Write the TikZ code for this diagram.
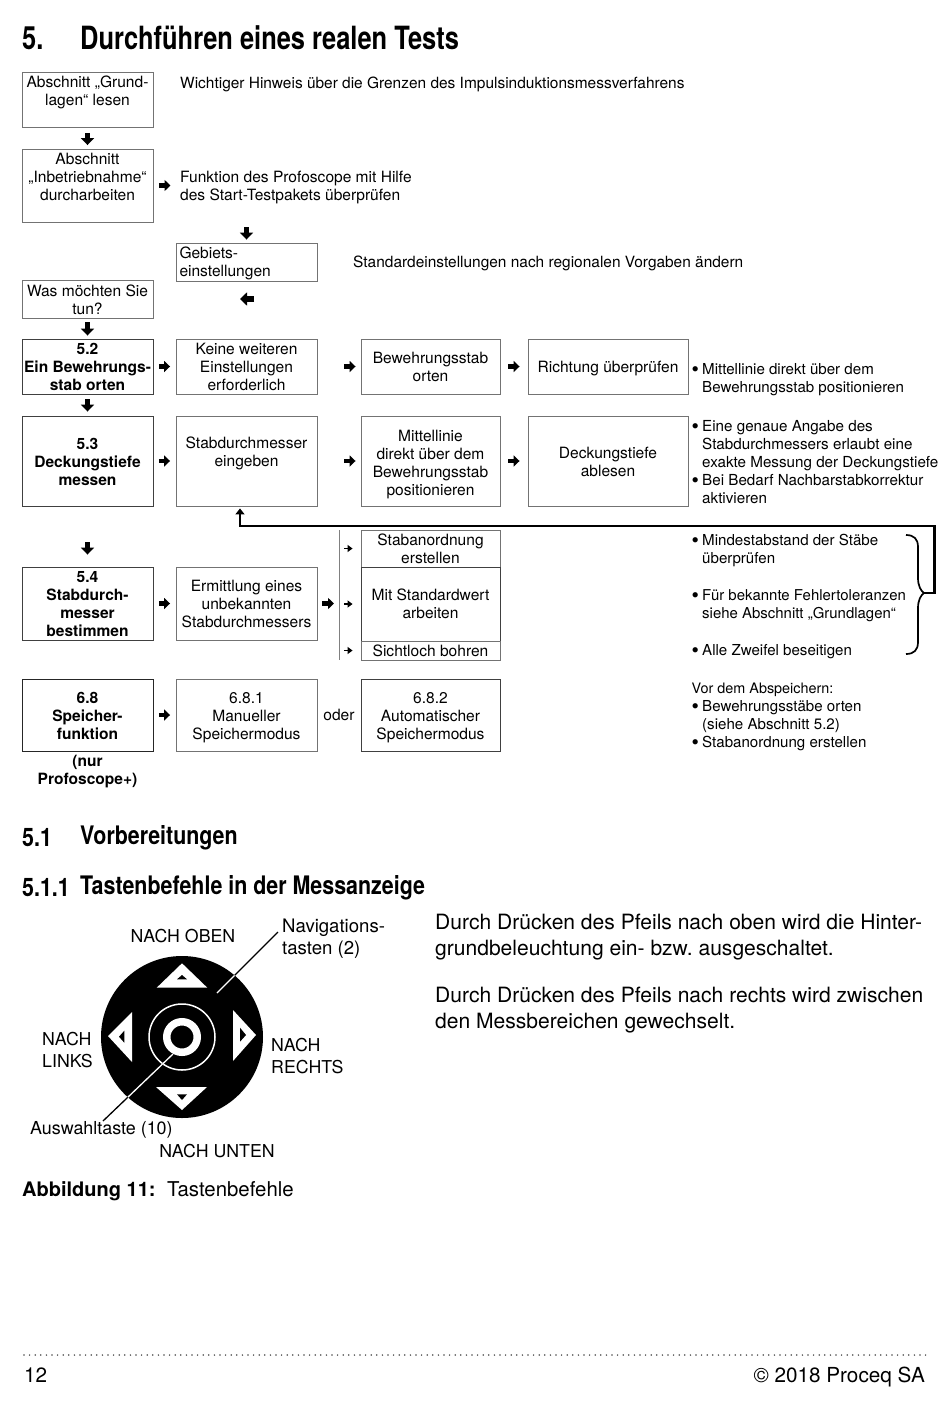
\documentclass[tikz,border=0pt]{standalone}
\usepackage{fontspec}
\setmainfont{TeX Gyre Heros}
\newfontfamily\headf[FakeStretch=0.795]{TeX Gyre Heros}
\newfontfamily\subf[FakeStretch=0.84]{TeX Gyre Heros}
\usetikzlibrary{arrows.meta}
\frenchspacing
\newcommand{\bl}{\makebox[10.5pt][l]{\raisebox{-2pt}{\fontsize{21}{18}\selectfont •}}}
\newcommand{\ind}{\hspace*{10.5pt}}
\newcommand{\st}{\rule{0pt}{15.5pt}}
\tikzset{
  fixedv/.style={execute at begin node={\rule{0pt}{15pt}},execute at end node={\rule[-3.5pt]{0pt}{3.5pt}}},
  fs/.style={font=\fontsize{15.55}{18}\selectfont,fixedv},
  fsb/.style={font=\fontsize{15.55}{18}\selectfont\bfseries,fixedv},
  rs/.style={font=\fontsize{#1}{18}\selectfont},
  lbox/.style={draw=black!55,line width=0.9pt,fs,align=center,inner sep=0pt,minimum width=#1pt},
  dbox/.style={draw=black!75,line width=0.9pt,fs,align=center,inner sep=0pt,minimum width=#1pt},
  txt/.style={fs,align=left,inner sep=0pt,anchor=west},
  captxt/.style={font=\fontsize{#1}{22}\selectfont,align=left,inner sep=0pt},
  bodytxt/.style={font=\fontsize{21.05}{26}\selectfont,align=left,inner sep=0pt,anchor=west},
  headtxt/.style={font=\headf\bfseries\fontsize{32}{32}\selectfont,inner sep=0pt,anchor=west},
  subtxt/.style={font=\subf\bfseries\fontsize{25.5}{26}\selectfont,inner sep=0pt,anchor=west},
  footertxt/.style={font=\fontsize{20.7}{24}\selectfont,inner sep=0pt},
  blk/.style={line width=4.2pt,-{Triangle[width=11pt,length=6pt]}},
  blkv/.style={line width=5.4pt,-{Triangle[width=13pt,length=7pt]}},
  tarrow/.style={line width=1.4pt,-{Triangle[width=7pt,length=5pt]}},
  fbline/.style={line width=2.4pt,-{Triangle[width=9pt,length=6pt]}},
}
\begin{document}
\begin{tikzpicture}[x=1pt,y=-1pt]
\useasboundingbox (0,0) rectangle (950,1402);
\fill[white] (0,0) rectangle (950,1402);
% headings
\node[headtxt] (h5) at (22,38) {5.};
\node[headtxt] (h5t) at (80,38) {Durchführen eines realen Tests};
\node[subtxt] (h51) at (22,838) {5.1};
\node[subtxt] (h51t) at (80,838) {Vorbereitungen};
\node[subtxt] (h511) at (22,888) {5.1.1};
\node[subtxt] (h511t) at (80,888) {Tastenbefehle in der Messanzeige};
% column 1
\node[lbox=131,minimum height=55pt] (a1) at (87.5,100) {\st Abschnitt „Grund-\\lagen“ lesen\\ };
\node[lbox=131,minimum height=73pt] (a2) at (87.5,185.5) {\st Abschnitt\\„Inbetriebnahme“\\durcharbeiten\\ };
\node[lbox=131,minimum height=38pt] (was) at (87.5,299) {\st Was möchten Sie\\tun?};
\node[dbox=131,minimum height=55pt,fsb] (s52) at (87.5,366.5) {\st 5.2\\Ein Bewehrungs-\\stab orten};
\node[dbox=131,minimum height=90pt,fsb] (s53) at (87.5,461) {\st 5.3\\Deckungstiefe\\messen};
\node[dbox=131,minimum height=73pt,fsb] (s54) at (87.5,603.5) {\st 5.4\\Stabdurch-\\messer\\bestimmen};
\node[draw=black!85,line width=0.9pt,align=center,inner sep=0pt,minimum width=131pt,minimum height=72pt,fsb] (s68) at (87.5,715) {\st 6.8\\Speicher-\\funktion};
\node[align=center,inner sep=0pt,fsb] (nur) at (87.5,771.5) {(nur\\Profoscope+)};
% free texts on top
\node[txt,rs=15.45] (hin) at (180,83) {Wichtiger Hinweis über die Grenzen des Impulsinduktionsmessverfahrens};
\node[txt] (funk) at (180,187.5) {Funktion des Profoscope mit Hilfe\\des Start-Testpakets überprüfen};
\node[lbox=141,minimum height=38pt,text width=134pt,align=left] (geb) at (246.5,262) {Gebiets-\\einstellungen};
\node[txt,rs=15.45] (std) at (353,262) {Standardeinstellungen nach regionalen Vorgaben ändern};
\coordinate (lt) at (254,299);
\coordinate (lh) at (240,299);
% row 5.2
\node[lbox=141,minimum height=55pt] (k1) at (246.5,366.5) {\st Keine weiteren\\Einstellungen\\erforderlich};
\node[lbox=139,minimum height=55pt] (k2) at (430.5,366.5) {\st Bewehrungsstab\\orten};
\node[lbox=160,minimum height=55pt] (k3) at (608,366.5) {Richtung überprüfen};
\node[txt,rs=15.1] (k4) at (691.5,380) {\bl Mittellinie direkt über dem\\\ind Bewehrungsstab positionieren};
% row 5.3
\node[lbox=141,minimum height=90pt] (d1) at (246.5,461) {\rule{0pt}{13.5pt}Stabdurchmesser\\eingeben\\ };
\node[lbox=139,minimum height=90pt] (d2) at (430.5,461) {\rule{0pt}{17.5pt}Mittellinie\\direkt über dem\\Bewehrungsstab\\positionieren};
\node[lbox=160,minimum height=90pt] (d3) at (608,461) {\st Deckungstiefe\\ablesen};
\node[txt,rs=15.2] (d4) at (691.5,464) {\bl Eine genaue Angabe des\\\ind Stabdurchmessers erlaubt eine\\\ind exakte Messung der Deckungstiefe\\\bl Bei Bedarf Nachbarstabkorrektur\\\ind aktivieren};
% row 5.4
\node[lbox=141,minimum height=73pt] (e1) at (246.5,603.5) {\st Ermittlung eines\\unbekannten\\Stabdurchmessers};
\node[lbox=139,minimum height=37pt] (e2) at (430.5,548.5) {\st Stabanordnung\\erstellen};
\node[dbox=139,minimum height=74pt] (e3) at (430.5,604) {\rule{0pt}{13.5pt}Mit Standardwert\\arbeiten};
\node[lbox=139,minimum height=19pt] (e4) at (430.5,650.5) {Sichtloch bohren};
\coordinate (vt) at (339,530);
\coordinate (vb) at (339,660);
\draw[black!50,line width=0.9pt] (vt) -- (vb);
\node[txt,rs=15.1] (f1) at (691.5,551) {\bl Mindestabstand der Stäbe\\\ind überprüfen};
\node[txt,rs=14.95] (f2) at (691.5,605.5) {\bl Für bekannte Fehlertoleranzen\\\ind siehe Abschnitt „Grundlagen“};
\node[txt,rs=15.1] (f3) at (691.5,649.5) {\bl Alle Zweifel beseitigen};
% row 6.8
\node[lbox=141,minimum height=72pt] (g1) at (246.5,715) {\st 6.8.1\\Manueller\\Speichermodus};
\node[dbox=139,minimum height=72pt] (g2) at (430.5,715) {\st 6.8.2\\Automatischer\\Speichermodus};
\node[fs,inner sep=0pt] (oder) at (339,714.5) {oder};
\node[txt,rs=15.1] (g4) at (691.5,716.5) {{\fontsize{14.4}{18}\selectfont Vor dem Abspeichern:}\\\bl Bewehrungsstäbe orten\\\ind (siehe Abschnitt 5.2)\\\bl Stabanordnung erstellen};
% block arrows
\draw[blkv,shorten <=5pt,shorten >=3.5pt] (a1) -- (a2);
\draw[blk,shorten <=5.5pt,shorten >=9.5pt] (a2.east) -- (a2.east -| funk.west);
\draw[blkv,shorten <=23pt,shorten >=3pt] (funk.south -| geb.north) -- (geb.north);
\draw[blkv] (lt) -- (lh);
\draw[blkv,shorten <=4pt,shorten >=3pt] (was) -- (s52);
\draw[blk,shorten <=5.5pt,shorten >=5.5pt] (s52) -- (k1);
\draw[blk,shorten <=27pt,shorten >=5pt] (k1) -- (k2);
\draw[blk,shorten <=8pt,shorten >=8pt] (k2) -- (k3);
\draw[blkv,shorten <=5pt,shorten >=4pt] (s52) -- (s53);
\draw[blk,shorten <=5.5pt,shorten >=5.5pt] (s53) -- (d1);
\draw[blk,shorten <=27pt,shorten >=5pt] (d1) -- (d2);
\draw[blk,shorten <=8pt,shorten >=8pt] (d2) -- (d3);
\draw[blkv,shorten <=36pt,shorten >=12pt] (s53) -- (s54);
\draw[blk,shorten <=5.5pt,shorten >=5.5pt] (s54) -- (e1);
\draw[blk,shorten <=5pt,shorten >=5pt] (e1.east) -- (e1.east -| vt);
\draw[blk,shorten <=5.5pt,shorten >=5.5pt] (s68) -- (g1);
% thin arrows
\draw[tarrow,shorten <=5pt,shorten >=8pt] (e2.west -| vt) -- (e2.west);
\draw[tarrow,shorten <=5pt,shorten >=8pt] (e3.west -| vt) -- (e3.west);
\draw[tarrow,shorten <=5pt,shorten >=8pt] (e4.west -| vt) -- (e4.west);
% brace and feedback line
\coordinate (bt) at (906,535);
\coordinate (bb) at (906,654);
\coordinate (btip) at (924,593);
\draw[line width=1.7pt] (bt) .. controls (914,535) and (918,539) .. (918,547) -- (918,578) .. controls (918,586) and (921,591) .. (btip) .. controls (921,595) and (918,600) .. (918,608) -- (918,642) .. controls (918,650) and (914,654) .. (bb);
\coordinate (c1) at (934.5,593);
\coordinate (c2) at (934.5,526);
\coordinate (c3) at (240,526);
\draw[fbline,shorten >=2pt] (btip) -- (c1) -- (c2) -- (c3) -- (c3 |- d1.south);
% key pad
\coordinate (pc) at (182,1037);
\fill[black] (pc) circle[radius=81pt];
\draw[white,line width=1.5pt] (pc) circle[radius=33pt];
\draw[white,line width=7.5pt] (pc) circle[radius=15.25pt];
\fill[white] (182,963.3) -- (207.3,987.7) -- (156.7,987.7) -- cycle;
\fill[black] (182,975) -- (187,979.3) -- (177,979.3) -- cycle;
\fill[white] (182,1110) -- (207,1087) -- (156,1087) -- cycle;
\fill[black] (182,1100) -- (187,1094.3) -- (177,1094.3) -- cycle;
\fill[white] (108,1036) -- (132,1012) -- (132,1062) -- cycle;
\fill[black] (119,1036.7) -- (124.3,1030.7) -- (124.3,1042.7) -- cycle;
\fill[white] (256,1035) -- (233,1010) -- (233,1061) -- cycle;
\fill[black] (246,1035) -- (240,1027.7) -- (240,1041.7) -- cycle;
\coordinate (na) at (278,932);
\coordinate (nb) at (217,993);
\coordinate (aa) at (173,1054);
\coordinate (ab) at (103,1121);
\draw[black,line width=1.3pt] (na) -- (nb);
\draw[black,line width=1.3pt] (aa) -- (ab);
\begin{scope}
\clip (pc) circle[radius=81pt];
\draw[white,line width=1.3pt] (na) -- (nb);
\draw[white,line width=1.3pt] (aa) -- (ab);
\end{scope}
\node[captxt=17.75] (noben) at (183,936) {NACH OBEN};
\node[captxt=18.6,anchor=west] (nav) at (282,939) {Navigations-\\tasten (2)};
\node[captxt=17.75,anchor=west] (nl) at (42,1050) {NACH\\LINKS};
\node[captxt=17.75,anchor=west] (nr) at (271,1056) {NACH\\RECHTS};
\node[captxt=17.9,anchor=west] (aw) at (30,1130) {Auswahltaste (10)};
\node[captxt=17.75] (nu) at (217,1151) {NACH UNTEN};
\node[footertxt,font=\fontsize{20}{24}\selectfont\bfseries,anchor=base west] (abb) at (22,1196) {Abbildung 11:};
\node[footertxt,anchor=base west,font=\fontsize{20.4}{24}\selectfont] (abt) at (167,1196) {Tastenbefehle};
\node[bodytxt] (p1) at (435,937) {Durch Drücken des Pfeils nach oben wird die Hinter-\\grundbeleuchtung ein- bzw. ausgeschaltet.};
\node[bodytxt] (p2) at (435,1010) {Durch Drücken des Pfeils nach rechts wird zwischen\\den Messbereichen gewechselt.};
% footer
\coordinate (fa) at (24,1355);
\coordinate (fe) at (927,1355);
\draw[black!70,line width=1.7pt,line cap=round,dash pattern=on 0pt off 5.6pt] (fa) -- (fe);
\node[footertxt,anchor=base west] (pg) at (24,1382) {12};
\node[footertxt,anchor=base east] (cr) at (925,1382) {© 2018 Proceq SA};
\end{tikzpicture}
\end{document}
